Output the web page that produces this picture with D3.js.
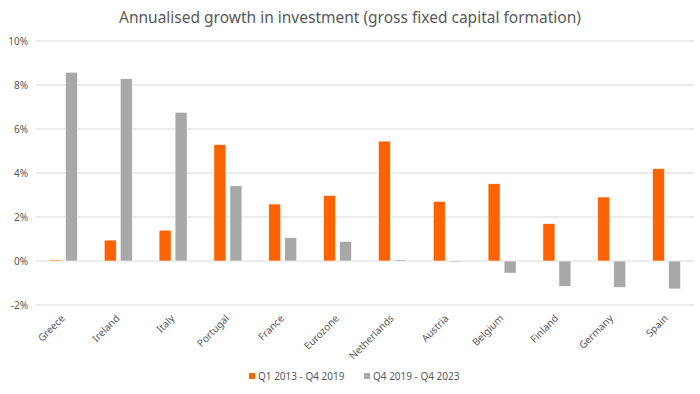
<!DOCTYPE html>
<html>
<head>
<meta charset="utf-8">
<script src="https://cdn.jsdelivr.net/npm/d3@7"></script>
<style>
  body { margin: 0; background: #fff; }
  svg { font-family: "Noto Sans", Lato, sans-serif; }
</style>
</head>
<body>
<svg id="chart" width="700" height="394"></svg>
<script>
// Chart data
const countries = ['Greece', 'Ireland', 'Italy', 'Portugal', 'France', 'Eurozone',
  'Netherlands', 'Austria', 'Belgium', 'Finland', 'Germany', 'Spain'];
const seriesNames = ['Q1 2013 - Q4 2019', 'Q4 2019 - Q4 2023'];
const growth2013 = [0.05, 0.95, 1.4, 5.29, 2.59, 2.98, 5.45, 2.71, 3.51, 1.7, 2.91, 4.2];
const growth2019 = [8.58, 8.29, 6.76, 3.42, 1.06, 0.89, 0.06, -0.05, -0.55, -1.15, -1.2, -1.27];
const yTicks = [-2, 0, 2, 4, 6, 8, 10];

const colors = ['#ff6200', '#a8a8a8'];
const textColor = '#595959';

const svg = d3.select('#chart');
const margin = { top: 41, right: 6, bottom: 89, left: 36 };
const width = 700 - margin.left - margin.right;
const height = 394 - margin.top - margin.bottom;

const x = d3.scaleBand().domain(countries).range([0, width]).paddingInner(0).paddingOuter(0);
const y = d3.scaleLinear().domain([-2, 10]).range([height, 0]);

const g = svg.append('g').attr('transform', `translate(${margin.left},${margin.top})`);

// Title
svg.append('text')
  .attr('x', 350).attr('y', 23)
  .attr('text-anchor', 'middle')
  .attr('font-size', 15.5)
  .attr('fill', textColor)
  .text('Annualised growth in investment (gross fixed capital formation)');

// Gridlines
g.append('g')
  .selectAll('line')
  .data(yTicks)
  .enter()
  .append('line')
  .attr('x1', 0).attr('x2', width)
  .attr('y1', d => y(d)).attr('y2', d => y(d))
  .attr('stroke', '#d9d9d9')
  .attr('stroke-width', 1);

// Y axis labels
const yAxis = d3.axisLeft(y).tickValues(yTicks).tickFormat(d => d + '%').tickSize(0).tickPadding(8);
g.append('g').call(yAxis)
  .call(s => s.select('.domain').remove())
  .selectAll('text')
  .attr('font-size', 10)
  .attr('font-family', '"Noto Sans", Lato, sans-serif')
  .attr('fill', textColor);

// Bars
const barW = 12;
const gap = 4;
const series = [growth2013, growth2019];
series.forEach((vals, si) => {
  g.append('g')
    .selectAll('rect')
    .data(countries.map((c, i) => ({ c, v: vals[i] })))
    .enter()
    .append('rect')
    .attr('x', d => x(d.c) + x.bandwidth() / 2 + (si === 0 ? -barW - gap / 2 : gap / 2))
    .attr('width', barW)
    .attr('y', d => y(Math.max(0, d.v)))
    .attr('height', d => Math.abs(y(d.v) - y(0)))
    .attr('fill', colors[si])
    .attr('stroke', '#fff')
    .attr('stroke-width', 0.6);
});

// X axis labels (rotated)
g.append('g')
  .selectAll('text')
  .data(countries)
  .enter()
  .append('text')
  .attr('transform', d => `translate(${x(d) + x.bandwidth() / 2 + 2},${y(-2) + 14}) rotate(-45)`)
  .attr('text-anchor', 'end')
  .attr('font-size', 10)
  .attr('fill', textColor)
  .text(d => d);

// Legend
const legend = svg.append('g').attr('transform', 'translate(249,380)');
const legendX = [0, 115];
seriesNames.forEach((name, i) => {
  const item = legend.append('g').attr('transform', `translate(${legendX[i]},0)`);
  item.append('rect')
    .attr('x', 0).attr('y', -7)
    .attr('width', 6).attr('height', 6)
    .attr('fill', colors[i]);
  item.append('text')
    .attr('x', 9).attr('y', 0)
    .attr('font-size', 10)
    .attr('fill', textColor)
    .text(name);
});
</script>
</body>
</html>
